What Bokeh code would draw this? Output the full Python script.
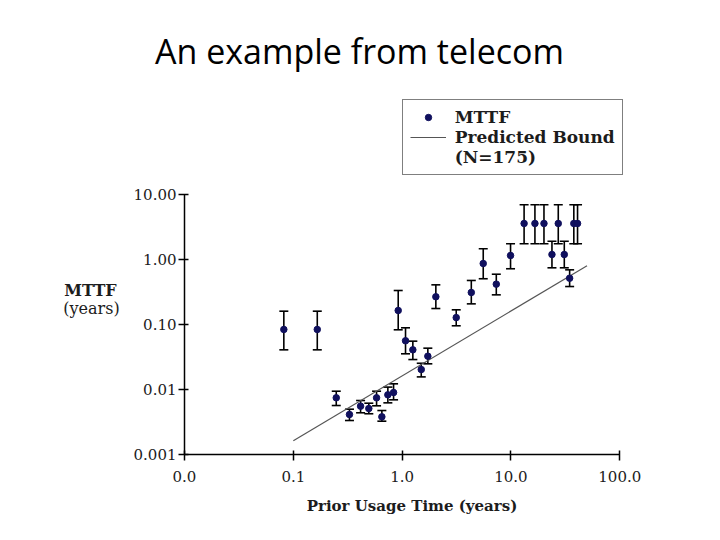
from bokeh.plotting import figure
from bokeh.models import (Range1d, FixedTicker, Whisker, TeeHead, ColumnDataSource,
                          Label, Legend, LegendItem)
from bokeh.embed import file_html
from bokeh.resources import INLINE

# ---- data ----
prior_usage = [0.0818, 0.166, 0.248, 0.328, 0.415, 0.494, 0.582, 0.651, 0.739, 0.834,
               0.920, 1.074, 1.254, 1.498, 1.722, 2.04, 3.14, 4.32, 5.56, 7.33,
               9.91, 13.2, 16.6, 20.1, 23.8, 27.2, 30.9, 34.6, 37.8, 40.9]
mttf = [0.0848, 0.0848, 0.00753, 0.00417, 0.0056, 0.00515, 0.00753, 0.00384, 0.00837, 0.00908,
        0.166, 0.0568, 0.0412, 0.0205, 0.0329, 0.27, 0.129, 0.314, 0.877, 0.422,
        1.164, 3.62, 3.62, 3.62, 1.206, 3.62, 1.206, 0.521, 3.62, 3.62]
mttf_upper = [0.162, 0.162, 0.00951, 0.00503, 0.00684, 0.00622, 0.00951, 0.0048, 0.011, 0.01236,
              0.337, 0.0899, 0.056, 0.0256, 0.0437, 0.412, 0.170, 0.481, 1.476, 0.6,
              1.762, 7.02, 7.02, 7.02, 1.93, 7.02, 1.93, 0.701, 7.02, 7.02]
mttf_lower = [0.0412, 0.0412, 0.00573, 0.00337, 0.00443, 0.00428, 0.00567, 0.00329, 0.0063, 0.00701,
              0.0838, 0.0358, 0.0292, 0.0158, 0.0251, 0.178, 0.0966, 0.21, 0.511, 0.289,
              0.728, 1.762, 1.762, 1.762, 0.753, 1.762, 0.753, 0.388, 1.762, 1.762]
bound_x = [0.1, 50.0]
bound_y = [0.00165, 0.81]

x_ticks = [0.01, 0.1, 1, 10, 100]
x_tick_labels = ["0.0", "0.1", "1.0", "10.0", "100.0"]
y_ticks = [0.001, 0.01, 0.1, 1, 10]
y_tick_labels = ["0.001", "0.01", "0.10", "1.00", "10.00"]

title_text = "An example from telecom"
x_label = "Prior Usage Time (years)"
y_label_1 = "MTTF"
y_label_2 = "(years)"
legend_labels = ["MTTF", "Predicted Bound", "(N=175)"]

# ---- layout (screen pixels) ----
W, H = 704, 524
AX_LEFT, AX_RIGHT = 184.0, 619.3      # x pixel of 0.01 and 100
AX_TOP, AX_BOTTOM = 194.3, 454.3      # y pixel of 10 and 0.001
xdec = (AX_RIGHT - AX_LEFT) / 4.0
ydec = (AX_BOTTOM - AX_TOP) / 4.0
x_lo = 10 ** (-2 - AX_LEFT / xdec)
x_hi = 10 ** (-2 + (W - AX_LEFT) / xdec)
y_lo = 10 ** (-3 - (H - AX_BOTTOM) / ydec)
y_hi = 10 ** (1 + AX_TOP / ydec)

NAVY = "#10105e"
SERIF = "DejaVu Serif"
TXT = "#1c1c1c"

p = figure(width=W, height=H, output_backend="svg", toolbar_location=None,
           x_axis_type="log", y_axis_type="log",
           x_range=Range1d(x_lo, x_hi), y_range=Range1d(y_lo, y_hi),
           min_border=0, min_border_left=0, min_border_right=0,
           min_border_top=0, min_border_bottom=0)
p.outline_line_color = None
p.grid.visible = False
p.background_fill_color = "white"
p.border_fill_color = "white"

for ax, ticks, labels in ((p.xaxis[0], x_ticks, x_tick_labels), (p.yaxis[0], y_ticks, y_tick_labels)):
    ax.ticker = FixedTicker(ticks=ticks, minor_ticks=[])
    ax.major_label_overrides = {t: l for t, l in zip(ticks, labels)}
    ax.axis_line_color = "black"
    ax.axis_line_width = 1.5
    ax.major_tick_line_color = "black"
    ax.major_tick_line_width = 1.5
    ax.major_tick_in = 4
    ax.major_tick_out = 6
    ax.minor_tick_line_color = None
    ax.major_label_text_font = SERIF
    ax.major_label_text_font_size = "15px"
    ax.major_label_text_color = TXT
p.xaxis[0].fixed_location = y_ticks[0]
p.xaxis[0].bounds = (x_ticks[0], x_ticks[-1])
p.yaxis[0].fixed_location = x_ticks[0]
p.yaxis[0].bounds = (y_ticks[0], y_ticks[-1])
p.xaxis[0].major_label_standoff = 10
p.yaxis[0].major_label_standoff = 2

# predicted bound
line_r = p.line(bound_x, bound_y, line_color="#555555", line_width=1.2)

# error bars
src = ColumnDataSource(dict(x=prior_usage, y=mttf, upper=mttf_upper, lower=mttf_lower))
wh = Whisker(source=src, base="x", upper="upper", lower="lower", dimension="height",
             line_color="black", line_width=1.6,
             upper_head=TeeHead(size=9, line_color="black", line_width=1.6),
             lower_head=TeeHead(size=9, line_color="black", line_width=1.6))
p.add_layout(wh)
pts = p.scatter("x", "y", source=src, size=6.5, color=NAVY)
no_glyph = p.scatter([], [], size=1, alpha=0)

legend = Legend(items=[LegendItem(label=legend_labels[0], renderers=[pts]),
                       LegendItem(label=legend_labels[1], renderers=[line_r]),
                       LegendItem(label=legend_labels[2], renderers=[no_glyph])],
                location=(401.7, H - 174.5), orientation="vertical",
                border_line_color="black", border_line_width=1.5,
                background_fill_color="white", background_fill_alpha=1,
                label_text_font=SERIF, label_text_font_style="bold",
                label_text_font_size="17px", label_text_color=TXT,
                label_height=20, glyph_width=36, glyph_height=16, label_standoff=9,
                padding=7, spacing=0, margin=0)
p.add_layout(legend, "center")

# texts (screen px, origin bottom-left of the canvas)
p.add_layout(Label(x=359, y=H - 50, x_units="screen", y_units="screen", text=title_text,
                   text_font="Open Sans", text_font_size="34px", text_color="black",
                   text_align="center", text_baseline="alphabetic"))
p.add_layout(Label(x=411.5, y=H - 505.5, x_units="screen", y_units="screen", text=x_label,
                   text_font=SERIF, text_font_style="bold", text_font_size="15px",
                   text_color=TXT, text_align="center", text_baseline="alphabetic"))
p.add_layout(Label(x=90, y=H - 289.5, x_units="screen", y_units="screen", text=y_label_1,
                   text_font=SERIF, text_font_style="bold", text_font_size="16px",
                   text_color=TXT, text_align="center", text_baseline="alphabetic"))
p.add_layout(Label(x=91, y=H - 307.5, x_units="screen", y_units="screen", text=y_label_2,
                   text_font=SERIF, text_font_size="16px",
                   text_color=TXT, text_align="center", text_baseline="alphabetic"))

open("out.html", "w").write(file_html(p, INLINE))
